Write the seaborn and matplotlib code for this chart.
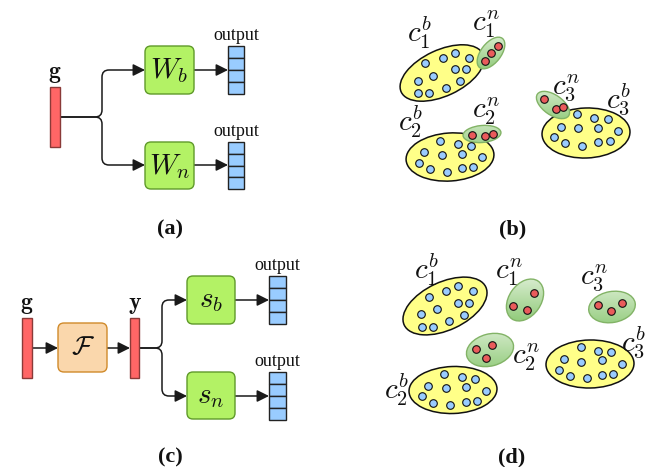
import numpy as np
import pandas as pd
import matplotlib
matplotlib.use("Agg")
import matplotlib.pyplot as plt
import seaborn as sns
from matplotlib.patches import Rectangle, FancyBboxPatch, Ellipse, PathPatch
from matplotlib.path import Path
from matplotlib.colors import LinearSegmentedColormap

sns.set_theme(style="white")
plt.rcParams["font.family"] = ["Liberation Serif", "DejaVu Serif"]
plt.rcParams["mathtext.fontset"] = "cm"

# ---------------- data ----------------
panel_labels = ["(a)", "(b)", "(c)", "(d)"]
panel_label_xy = [(170, 229), (513, 229), (170, 457), (512, 457)]

# cluster ellipses: (cx, cy, width, height, angle, kind, label, label_x, label_y)
clusters_b = [
    (442, 73, 90, 46, -25, "base", r"$c_1^b$", 419, 33),
    (491, 53, 37, 20, -52, "novel", r"$c_1^n$", 486, 24),
    (450, 157, 88, 48, -4, "base", r"$c_2^b$", 410, 122),
    (482, 134, 38, 17, -5, "novel", r"$c_2^n$", 486, 111),
    (586, 133, 88, 50, -2, "base", r"$c_3^b$", 618, 99),
    (553, 105, 38, 20, 35, "novel", r"$c_3^n$", 566, 88),
]
clusters_d = [
    (445, 306, 90, 48, -25, "base", r"$c_1^b$", 426, 270),
    (525, 300, 46, 32, -55, "novel", r"$c_1^n$", 509, 272),
    (612, 307, 47, 31, -10, "novel", r"$c_3^n$", 594, 278),
    (490, 350, 48, 32, -15, "novel", r"$c_2^n$", 526, 357),
    (590, 364, 88, 48, -1, "base", r"$c_3^b$", 633, 342),
    (453, 390, 88, 47, -2, "base", r"$c_2^b$", 396, 390),
]

blue_x_b = [425, 443, 455, 469, 455, 466, 433, 418, 460, 446, 418, 429,
            440, 458, 471, 424, 442, 462, 482, 419, 430, 447, 462, 473,
            577, 594, 608, 561, 578, 598, 618, 554, 565, 582, 598, 610]
blue_y_b = [63, 58, 53, 58, 69, 69, 76, 81, 81, 88, 93, 93,
            141, 144, 146, 152, 155, 154, 157, 163, 169, 172, 168, 167,
            114, 118, 119, 127, 128, 128, 131, 137, 143, 146, 142, 141]
red_x_b = [498, 491, 485, 472, 485, 493, 544, 556, 563]
red_y_b = [46, 53, 61, 135, 136, 134, 99, 109, 107]

blue_x_d = [429, 446, 458, 473, 437, 458, 469, 421, 464, 449, 422, 433,
            581, 598, 611, 564, 581, 602, 622, 559, 570, 587, 602, 613,
            444, 462, 475, 428, 446, 466, 486, 422, 433, 450, 466, 477]
blue_y_d = [297, 291, 286, 291, 309, 303, 303, 314, 315, 321, 327, 327,
            347, 351, 352, 359, 362, 360, 364, 370, 376, 378, 375, 374,
            374, 377, 379, 386, 388, 387, 391, 396, 403, 405, 402, 401]
red_x_d = [534, 513, 527, 598, 611, 622, 476, 492, 486]
red_y_d = [293, 306, 310, 305, 311, 303, 349, 345, 358]

# diagram boxes: (x0, y0, x1, y1, text)
bars = [(50, 87, 60, 147, r"$\mathbf{g}$"), (22, 318, 32, 378, r"$\mathbf{g}$"),
        (130, 318, 139, 378, r"$\mathbf{y}$")]
green_boxes = [(145, 46, 194, 94, r"$W_b$"), (145, 142, 194, 189, r"$W_n$"),
               (187, 276, 235, 324, r"$s_b$"), (187, 372, 235, 419, r"$s_n$")]
orange_boxes = [(58, 323, 107, 372, r"$\mathcal{F}$")]
outputs = [(228, 46, 244, 94), (228, 142, 244, 189),
           (269, 276, 286, 324), (269, 372, 286, 420)]
n_cells = 4

# ---------------- figure ----------------
fig = plt.figure(figsize=(6.45, 4.67), dpi=100)
ax = fig.add_axes([0, 0, 1, 1])
ax.set_xlim(0, 645)
ax.set_ylim(467, 0)
ax.axis("off")


def arrow(x0, y0, x1, y1):
    ax.annotate("", xy=(x1, y1), xytext=(x0, y0),
                arrowprops=dict(arrowstyle="-|>,head_length=0.6,head_width=0.3",
                                color="#1a1a1a", lw=1.1, shrinkA=0, shrinkB=0),
                zorder=3)


def branch(x0, y, xc, y_top, y_bot, x1):
    r = 7
    for yt in (y_top, y_bot):
        s = -1 if yt < y else 1
        verts = [(x0, y), (xc - r, y), (xc, y), (xc, y + s * r),
                 (xc, yt - s * r), (xc, yt), (xc + r, yt), (x1 - 8, yt)]
        codes = [Path.MOVETO, Path.LINETO, Path.CURVE3, Path.CURVE3,
                 Path.LINETO, Path.CURVE3, Path.CURVE3, Path.LINETO]
        ax.add_patch(PathPatch(Path(verts, codes), fill=False, ec="#1a1a1a", lw=1.1, zorder=2))
        arrow(x1 - 10, yt, x1, yt)


for x0, y0, x1, y1, t in bars:
    ax.add_patch(Rectangle((x0, y0), x1 - x0, y1 - y0, fc="#ff6666", ec="#8a3a38", lw=1.0, zorder=4))
    ax.text((x0 + x1) / 2, y0 - 9, t, ha="center", va="baseline", fontsize=17, color="#111111")

for x0, y0, x1, y1, t in green_boxes:
    ax.add_patch(FancyBboxPatch((x0, y0), x1 - x0, y1 - y0, boxstyle="round,pad=0,rounding_size=6",
                                fc="#b3f265", ec="#5f9a2a", lw=1.0, zorder=4))
    ax.text((x0 + x1) / 2, (y0 + y1) / 2 + 1, t, ha="center", va="center", fontsize=21, color="#111111", zorder=5)

for x0, y0, x1, y1, t in orange_boxes:
    ax.add_patch(FancyBboxPatch((x0, y0), x1 - x0, y1 - y0, boxstyle="round,pad=0,rounding_size=6",
                                fc="#fad7ac", ec="#d08a2a", lw=1.0, zorder=4))
    ax.text((x0 + x1) / 2, (y0 + y1) / 2, t, ha="center", va="center", fontsize=19, color="#111111", zorder=5)

for x0, y0, x1, y1 in outputs:
    h = (y1 - y0) / n_cells
    for i in range(n_cells):
        ax.add_patch(Rectangle((x0, y0 + i * h), x1 - x0, h, fc="#99ccff", ec="#222222", lw=1.0, zorder=4))
    ax.text((x0 + x1) / 2, y0 - 6, "output", ha="center", va="baseline", fontsize=13, color="#111111")

# connections (a)
branch(60, 117, 102, 70, 165, 145)
arrow(194, 70, 228, 70)
arrow(194, 165, 228, 165)
# connections (c)
arrow(32, 348, 58, 348)
arrow(107, 348, 130, 348)
branch(139, 348, 162, 300, 396, 187)
arrow(235, 300, 269, 300)
arrow(235, 396, 269, 396)

# clusters
grad = np.linspace(0, 1, 64).reshape(-1, 1)
gcmap = LinearSegmentedColormap.from_list("g", ["#d9edd0", "#8fca78"])


def draw_clusters(clusters):
    for cx, cy, w, h, ang, kind, lab, lx, ly in clusters:
        if kind == "base":
            e = Ellipse((cx, cy), w, h, angle=ang, fc="#ffff88", ec="#111111", lw=1.1, zorder=2)
            ax.add_patch(e)
        else:
            e = Ellipse((cx, cy), w, h, angle=ang, fc="none", ec="#82b366", lw=1.0, zorder=3.1)
            ax.add_patch(e)
            r = max(w, h) / 2
            im = ax.imshow(grad, cmap=gcmap, extent=(cx - r, cx + r, cy + r, cy - r),
                           aspect="auto", zorder=3, interpolation="bilinear")
            clip = Ellipse((cx, cy), w, h, angle=ang, transform=ax.transData)
            im.set_clip_path(clip)
        ax.text(lx, ly, lab, ha="center", va="center", fontsize=21, color="#111111", zorder=6)


draw_clusters(clusters_b)
draw_clusters(clusters_d)

blue_df = pd.DataFrame({"x": blue_x_b + blue_x_d, "y": blue_y_b + blue_y_d})
red_df = pd.DataFrame({"x": red_x_b + red_x_d, "y": red_y_b + red_y_d})
sns.scatterplot(data=blue_df, x="x", y="y", ax=ax, s=30, color="#99ccff",
                edgecolor="#111111", linewidth=0.8, zorder=5, legend=False)
sns.scatterplot(data=red_df, x="x", y="y", ax=ax, s=30, color="#ea5b5b",
                edgecolor="#111111", linewidth=0.8, zorder=5, legend=False)
ax.set_xlim(0, 645)
ax.set_ylim(467, 0)
ax.axis("off")

for (x, y), t in zip(panel_label_xy, panel_labels):
    ax.text(x, y, t, ha="center", va="center", fontsize=16, fontweight="bold", color="#111111")

fig.savefig("out.png", dpi=100)
